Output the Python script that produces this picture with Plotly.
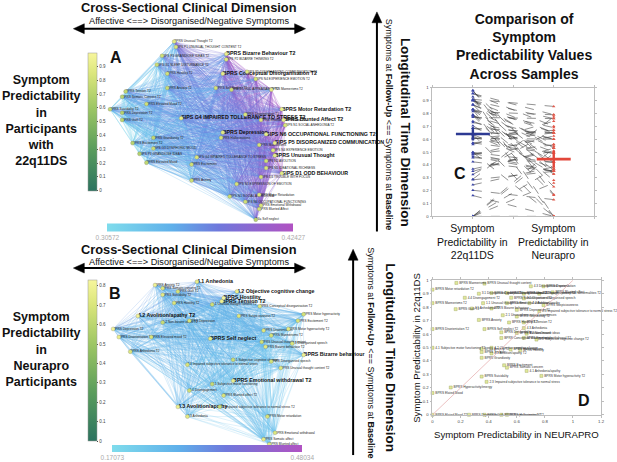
import plotly.graph_objects as go
from plotly.colors import sample_colorscale
from itertools import combinations

W, H = 617, 462
FONT = 'Liberation Sans, Arial, Helvetica, sans-serif'

# ---------------- panel A: network of symptoms, 22q11DS sample ----------------
a_labels = [
    'BPRS Unusual Thought T2', 'SIPS P1 UNUSUAL THOUGHT CONTENT T2', 'SIPS P3 GRANDIOSE IDEAS T2',
    'BPRS Bizarre Behaviour T2', 'SIPS P2 BIZARRE THINKING T2', 'SIPS G1 SLEEP DISTURBANCE T2',
    'SIPS P5 DISORGANIZED COMMUNICATION T2', 'BPRS Conceptual Disorganisation T2',
    'SIPS N4 EXPERIENCE EMOTION T2', 'BPRS Hostility T2', 'BPRS Mannerisms T2', 'BPRS Self Neglect T2',
    'SIPS D1 ODD APPEARANCE T2', 'BPRS Anxiety T2', 'BPRS Tension T2', 'BPRS Somatic Concern T2',
    'BPRS Elevated Mood T2', 'BPRS Suicidality T2', 'BPRS Depression T2', 'BPRS Guilt T2',
    'SIPS G4 IMPAIRED TOLLERANCE TO STRESS T2', 'BPRS Disorientation T2', 'BPRS Motor Retardation T2',
    'BPRS Blunted Affect T2', 'BPRS Emotional Withdrawal T2', 'SIPS N1 SOCIAL ANHEDONIA T2',
    'BPRS Depression', 'SIPS N6 OCCUPATIONAL FUNCTIONING T2', 'BPRS Grandiosity T2',
    'BPRS Hallucinations', 'BPRS Excitement T2', 'SIPS P5 DISORGANIZED COMMUNICATION',
    'SIPS G3 DYSPHORIC MOOD', 'SIPS N4 EXPERIENCE EMOTION', 'BPRS Mannerisms', 'BPRS Unusual Thought',
    'SIPS P3 GRANDIOSE IDEAS', 'SIPS G4 IMPAIRED TOLLERANCE TO STRESS', 'SIPS N2 AVOLITION',
    'BPRS Elevated Mood', 'BPRS Excitement', 'SIPS N5 IDEATIONAL RICHNESS', 'SIPS D1 ODD BEHAVIOUR',
    'SIPS D3 TROUBLE WITH FOCUS', 'BPRS Anxiety', 'SIPS N3 EXPRESSION OF EMOTION',
    'SIPS N1 SOCIAL ANHEDONIA', 'BPRS Motor Retardation', 'SIPS N6 OCCUPATIONAL FUNCTIONING',
    'BPRS Emotional Withdrawal', 'BPRS Blunted Affect', 'P4a Self neglect',
]
a_x = [37, 38, 30, 67, 67, 27, 79, 65, 84, 33, 93, 61, 70, 33, 9, 7, 21, 0, 7, 7,
       41, 78, 99, 100, 87, 101, 65, 90, 25, 64, 13, 95, 25, 94, 86, 95, 17, 50, 90, 21,
       47, 90, 99, 87, 47, 73, 69, 86, 78, 87, 86, 84]
a_y = [100, 97, 92, 93, 90, 87, 83, 82, 79, 82, 73, 74, 73, 74, 72, 69, 65, 62, 60, 56,
       57, 59, 62, 56, 56, 53, 49, 48, 46, 46, 43, 43, 40, 39, 42, 36, 37, 35, 33, 32,
       31, 29, 26, 24, 22, 20, 13, 14, 10, 8, 6, 0]
a_pred = [0.88, 0.84, 0.80, 0.92, 0.86, 0.78, 0.87, 0.90, 0.83, 0.81, 0.89, 0.82, 0.79, 0.77,
          0.74, 0.72, 0.80, 0.76, 0.70, 0.73, 0.91, 0.85, 0.93, 0.92, 0.86, 0.84, 0.88, 0.90,
          0.75, 0.83, 0.71, 0.91, 0.78, 0.86, 0.82, 0.90, 0.69, 0.85, 0.80, 0.74, 0.81, 0.84,
          0.89, 0.83, 0.79, 0.82, 0.77, 0.86, 0.80, 0.84, 0.81, 0.72]
a_strength = [0.37, 0.36, 0.34, 0.41, 0.40, 0.33, 0.41, 0.40, 0.41, 0.34, 0.41, 0.37, 0.38,
              0.33, 0.315, 0.31, 0.32, 0.31, 0.31, 0.31, 0.35, 0.39, 0.42, 0.42, 0.40, 0.42,
              0.37, 0.41, 0.32, 0.36, 0.31, 0.415, 0.32, 0.41, 0.40, 0.415, 0.315, 0.34, 0.40,
              0.315, 0.34, 0.40, 0.42, 0.39, 0.34, 0.37, 0.37, 0.39, 0.38, 0.39, 0.39, 0.38]
a_key = [3, 7, 20, 22, 23, 26, 27, 31, 35, 42]
a_wrange = [0.30572, 0.42427]

# ---------------- panel B: network of symptoms, Neurapro sample ----------------
b_labels = [
    'BPRS Anxiety T2', '4.1 Anhedonia', 'BPRS Somatic concern T2', 'BPRS Guilt T2',
    'BPRS Suicidality T2', '4.2 Objective cognitive change', 'BPRS Hostility', 'BPRS Tension T2',
    'BPRS Hostility T2', '1.1 Unusual thought content T2', 'BPRS Conceptual disorganisation T2',
    '4.2 Avolition/apathy T2', 'BPRS Suspiciousness T2', 'BPRS Depression', '1.2 Non-bizarre ideas T2',
    'BPRS Depression T2', 'BPRS Disorientation T2', 'BPRS Elevated mood T2', 'BPRS Self neglect',
    'BPRS Disorientation', 'BPRS Mannerisms T2', 'BPRS Motor hyperactivity T2',
    'BPRS Unusual thought content', 'BPRS Anhedonia T2', '3.1 Disorganised speech',
    'BPRS Bizarre behaviour T2', 'BPRS Bizarre behaviour', '5.1 Subjective cognitive change',
    '2.3 Impaired subjective tolerance to normal stress', 'BPRS Disorganised speech',
    'BPRS Unusual thought content T2', 'BPRS Emotional withdrawal T2',
    '4.1 Subjective motor functioning', '4.4 Disengagement', 'BPRS Blunted affect T2',
    '4.3 Avolition/apathy', '2.3 Impaired subjective tolerance to normal stress T2', '4.3 Anhedonia',
    'BPRS Motor retardation', 'BPRS Emotional withdrawal', 'BPRS Somatic affect', 'BPRS Blunted affect',
    'BPRS Motor hyperactivity', 'BPRS Excitement T2',
]
b_x = [22, 44, 26, 34, 26, 65, 58, 57, 32, 52, 77, 13, 66, 40, 26, 0, 3, 20, 51, 79,
       83, 92, 78, 9, 94, 80, 100, 63, 39, 83, 88, 63, 52, 40, 58, 34, 56, 39, 81, 85,
       79, 82, 100, 97]
b_y = [98, 100, 96, 94, 92, 94, 90, 88, 87, 86, 85, 79, 79, 76, 75, 71, 66, 66, 65, 70,
       67, 71, 63, 57, 62, 60, 55, 52, 49, 51, 47, 39, 37, 33, 30, 23, 23, 17, 17, 7,
       3, 0, 80, 76]
b_pred = [0.80, 0.76, 0.71, 0.68, 0.74, 0.78, 0.82, 0.79, 0.70, 0.66, 0.73, 0.81, 0.72, 0.69,
          0.64, 0.80, 0.77, 0.70, 0.75, 0.72, 0.68, 0.74, 0.66, 0.71, 0.70, 0.73, 0.79, 0.65,
          0.69, 0.67, 0.72, 0.76, 0.63, 0.66, 0.70, 0.78, 0.64, 0.74, 0.69, 0.71, 0.75, 0.73,
          0.68, 0.70]
b_strength = [0.30, 0.31, 0.29, 0.29, 0.28, 0.30, 0.30, 0.29, 0.27, 0.27, 0.26, 0.29, 0.26,
              0.26, 0.27, 0.29, 0.28, 0.27, 0.26, 0.25, 0.24, 0.24, 0.24, 0.27, 0.24, 0.24,
              0.25, 0.24, 0.24, 0.23, 0.23, 0.24, 0.24, 0.24, 0.23, 0.26, 0.23, 0.25, 0.22,
              0.22, 0.22, 0.22, 0.25, 0.24]
b_key = [1, 5, 6, 7, 11, 18, 26, 31, 35]
b_wrange = [0.17073, 0.48034]

# ---------------- panels C and D: same symptoms in both samples ----------------
sym_names = [
    'BPRS Mannerisms', 'BPRS Unusual thought content', '4.3 Disorganised speech', 'BPRS Disorientation',
    'BPRS Motor retardation T2', '3.1 Disorganised speech T2', 'BPRS Conceptual disorganisation T2',
    'BPRS Bizarre behaviour T2', 'BPRS Unusual thought content T2',
    '2.2 Objective perceptual abnormalities T2', 'BPRS Blunted affect', '4.4 Disengagement T2',
    'BPRS Somatic concern T2', '3.2 Objective disorganised speech', 'BPRS Mannerisms T2',
    '1.1 Unusual thought content', 'BPRS Emotional withdrawal', '4.2 Avolition/apathy',
    'BPRS Suspiciousness', 'BPRS Guilt T2', '4.1 Anhedonia T2', 'BPRS Bizarre behaviour',
    'BPRS Depression T2', '2.3 Impaired subjective tolerance to normal stress T2',
    '2.1 Unusual perceptual experiences', 'BPRS Grandiosity T2', 'BPRS Anxiety', 'BPRS Hostility T2',
    'BPRS Tension T2', 'BPRS Disorientation T2', 'BPRS Self neglect T2', '4.3 Anhedonia',
    'BPRS Distractibility', 'BPRS Elevated mood', '1.2 Non-bizarre ideas',
    'BPRS Conceptual disorganisation', 'BPRS Emotional withdrawal T2',
    '5.1 Subjective cognitive change T2', '4.1 Subjective motor functioning T2', 'BPRS Anxiety T2',
    '4.2 Objective cognitive change', 'BPRS Hallucinations', 'BPRS Hostility', 'BPRS Tension',
    '4.3 Avolition/apathy T2', 'BPRS Grandiosity', 'BPRS Excitement', 'BPRS Somatic concern',
    '4.1 Anhedonia/apathy', 'BPRS Motor hyperactivity T2', 'BPRS Suicidality',
    '2.3 Impaired subjective tolerance to normal stress', 'BPRS Hyperactivity/energy',
    'BPRS Elated Mood', 'BPRS Elated Mood T2', 'BPRS Depression', 'BPRS Guilt',
    'BPRS Suspiciousness T2', 'BPRS Hallucinations T2',
]
pred_neura = [0.17, 0.37, 0.70, 0.79, 0.00, 0.33, 0.42, 0.53, 0.65, 0.76, 0.855, 0.23, 0.56,
              0.65, 0.00, 0.36, 0.53, 0.69, 0.79, 0.165, 0.28, 0.42, 0.60, 0.76, 0.50, 0.60,
              0.33, 0.545, 0.65, 0.00, 0.37, 0.65, 0.49, 0.60, 0.67, 0.49, 0.65, 0.74, 0.00,
              0.35, 0.42, 0.556, 0.625, 0.35, 0.42, 0.35, 0.51, 0.53, 0.67, 0.775, 0.35, 0.385,
              0.13, 0.00, 0.00, 0.26, 0.37, 0.49, 0.53]
pred_22q = [0.98, 0.975, 0.955, 0.955, 0.93, 0.90, 0.905, 0.905, 0.90, 0.90, 0.91, 0.87, 0.87,
            0.865, 0.83, 0.83, 0.83, 0.83, 0.815, 0.785, 0.79, 0.79, 0.78, 0.77, 0.74, 0.73,
            0.705, 0.686, 0.686, 0.637, 0.637, 0.645, 0.613, 0.608, 0.603, 0.571, 0.571, 0.559,
            0.498, 0.49, 0.498, 0.485, 0.48, 0.466, 0.456, 0.424, 0.368, 0.35, 0.326, 0.289,
            0.284, 0.245, 0.203, 0.162, 0.0, 0.0, 0.0, 0.0, 0.0]
group_names = ['Symptom<br>Predictability in<br>22q11DS', 'Symptom<br>Predictability in<br>Neurapro']
group_mean = [0.64, 0.445]
group_spread = [0.05, 0.065]

NODE_SCALE = [[0, '#2c735f'], [0.3, '#5a9c5c'], [0.6, '#9dc663'], [0.85, '#dbe67c'], [1, '#f7f69c']]
EDGE_SCALE = [[0, '#7fdcec'], [0.35, '#5fb0ea'], [0.6, '#6f78dc'], [1, '#b152c2']]


def fx(p):
    return p / W


def fy(p):
    return 1 - p / H


fig = go.Figure()


def add_network(xs, ys, strength, wrange, pred, labels, key, xa, ya, node_ca, edge_ca, alpha):
    nb = 8
    groups = {}
    for i, j in combinations(range(len(xs)), 2):
        t = ((strength[i] + strength[j]) / 2 - wrange[0]) / (wrange[1] - wrange[0])
        k = min(max(int(t * nb), 0), nb - 1)
        gx, gy = groups.setdefault((i, k), ([], []))
        gx += [xs[i], xs[j], None]
        gy += [ys[i], ys[j], None]
    for (i, k), (gx, gy) in groups.items():
        col = sample_colorscale(EDGE_SCALE, (k + 0.5) / nb)[0]
        col = col.replace('rgb(', 'rgba(').replace(')', f', {alpha})')
        fig.add_trace(go.Scatter(x=gx, y=gy, mode='lines', line=dict(color=col, width=0.6),
                                 xaxis=xa, yaxis=ya, hoverinfo='skip'))
    # dummy for the edge weight colour bar
    fig.add_trace(go.Scatter(x=xs[:2], y=ys[:2], mode='markers', xaxis=xa, yaxis=ya,
                             marker=dict(color=wrange, coloraxis=edge_ca, opacity=0),
                             hoverinfo='skip'))
    small = [i for i in range(len(xs)) if i not in key]
    fig.add_trace(go.Scatter(x=[xs[i] for i in small], y=[ys[i] for i in small],
                             text=[labels[i] for i in small], mode='text',
                             textposition='middle right', cliponaxis=False,
                             textfont=dict(size=3.2, color='#222', family=FONT),
                             xaxis=xa, yaxis=ya, hoverinfo='skip'))
    fig.add_trace(go.Scatter(x=[xs[i] for i in key], y=[ys[i] for i in key],
                             text=['<b>' + labels[i] + '</b>' for i in key], mode='text',
                             textposition='middle right', cliponaxis=False,
                             textfont=dict(size=5.3, color='#111', family=FONT),
                             xaxis=xa, yaxis=ya, hoverinfo='skip'))
    fig.add_trace(go.Scatter(x=xs, y=ys, mode='markers', cliponaxis=False,
                             marker=dict(size=4, color=pred, coloraxis=node_ca,
                                         line=dict(width=0.3, color='#777')),
                             xaxis=xa, yaxis=ya, hoverinfo='skip'))


add_network(a_x, a_y, a_strength, a_wrange, a_pred, a_labels, a_key, 'x', 'y',
            'coloraxis', 'coloraxis2', 0.42)
add_network(b_x, b_y, b_strength, b_wrange, b_pred, b_labels, b_key, 'x2', 'y2',
            'coloraxis3', 'coloraxis4', 0.38)

# ---------------- panel C ----------------
lx, ly = [], []
for q, n in zip(pred_22q, pred_neura):
    lx += [1, 2, None]
    ly += [q, n, None]
fig.add_trace(go.Scatter(x=lx, y=ly, mode='lines', xaxis='x3', yaxis='y3', hoverinfo='skip',
                         line=dict(color='rgba(60,60,60,0.8)', width=0.7, dash='dash')))
fig.add_trace(go.Scatter(x=[1] * len(pred_22q), y=pred_22q, mode='markers', xaxis='x3', yaxis='y3',
                         cliponaxis=False, marker=dict(size=3, color='#3b46a8', symbol='triangle-up')))
fig.add_trace(go.Scatter(x=[2] * len(pred_neura), y=pred_neura, mode='markers', xaxis='x3',
                         yaxis='y3', cliponaxis=False,
                         marker=dict(size=3, color='#e0584a', symbol='triangle-up')))
for g, (m, s, c) in enumerate(zip(group_mean, group_spread, ['#2d3a93', '#e2473a'])):
    fig.add_trace(go.Scatter(x=[g + 0.79, g + 1.21], y=[m, m], mode='lines', xaxis='x3', yaxis='y3',
                             line=dict(color=c, width=2.6)))
    fig.add_trace(go.Scatter(x=[g + 1], y=[m], mode='markers', xaxis='x3', yaxis='y3',
                             marker=dict(size=1, color=c),
                             error_y=dict(type='data', array=[s], color=c, thickness=2.4, width=0)))

# ---------------- panel D ----------------
fig.add_shape(type='line', xref='x4', yref='y4', x0=0, y0=0, x1=1, y1=1,
              line=dict(color='#e7b3b3', width=0.8))
fig.add_trace(go.Scatter(x=pred_neura, y=pred_22q, mode='markers+text', text=sym_names,
                         textposition='middle right', cliponaxis=False, xaxis='x4', yaxis='y4',
                         textfont=dict(size=3.2, color='#333', family=FONT),
                         marker=dict(size=3, symbol='square', color='#e1e99a',
                                     line=dict(width=0.4, color='#9a9f5e'))))

hidden = dict(visible=False, fixedrange=True)
tickax = dict(showline=True, linecolor='#bdbdbd', linewidth=0.8, mirror='ticks', ticks='outside',
              ticklen=2, tickcolor='#bdbdbd', showgrid=False, zeroline=False,
              tickfont=dict(size=4.3, color='#444', family=FONT))

fig.update_layout(
    width=W, height=H, margin=dict(l=0, r=0, t=0, b=0),
    paper_bgcolor='white', plot_bgcolor='white', showlegend=False,
    font=dict(family=FONT, color='#111'),
    xaxis=dict(domain=[fx(108), fx(325)], range=[-1.1, 123], anchor='y', **hidden),
    yaxis=dict(domain=[fy(224), fy(35)], range=[-2.2, 102.8], anchor='x', **hidden),
    xaxis2=dict(domain=[fx(110), fx(335)], range=[-1.6, 115.6], anchor='y2', **hidden),
    yaxis2=dict(domain=[fy(452), fy(278)], range=[-3.05, 103], anchor='x2', **hidden),
    xaxis3=dict(domain=[fx(435), fx(598)], range=[0.5, 2.5], tickvals=[0.5, 1, 1.5, 2, 2.5],
                ticktext=[''] * 5, anchor='y3', **tickax),
    yaxis3=dict(domain=[fy(216.7), fy(86.7)], range=[0, 1], dtick=0.1, anchor='x3', **tickax),
    xaxis4=dict(domain=[fx(435), fx(605)], range=[0, 1.2], dtick=0.2, anchor='y4', **tickax),
    yaxis4=dict(domain=[fy(417.3), fy(281.3)], range=[0, 1], dtick=0.1, anchor='x4', **tickax),
    coloraxis=dict(colorscale=NODE_SCALE, cmin=0, cmax=1, colorbar=dict(
        x=fx(88), xanchor='left', y=fy(121), yanchor='middle', len=138, lenmode='pixels',
        thickness=9, xpad=0, ypad=0, outlinewidth=0.5, outlinecolor='#999',
        tickvals=[i / 10 for i in range(10)], ticks='outside', ticklen=1.5,
        tickfont=dict(size=4.5, color='#444'))),
    coloraxis2=dict(colorscale=EDGE_SCALE, cmin=a_wrange[0], cmax=a_wrange[1], colorbar=dict(
        orientation='h', x=fx(201), xanchor='center', y=fy(232), yanchor='middle', len=186,
        lenmode='pixels', thickness=8, xpad=0, ypad=0, outlinewidth=0,
        tickvals=a_wrange, ticktext=[str(v) for v in a_wrange], ticks='',
        tickfont=dict(size=6.5, color='#aaa'))),
    coloraxis3=dict(colorscale=NODE_SCALE, cmin=0, cmax=0.83, colorbar=dict(
        x=fx(88), xanchor='left', y=fy(362.5), yanchor='middle', len=161, lenmode='pixels',
        thickness=9, xpad=0, ypad=0, outlinewidth=0.5, outlinecolor='#999',
        tickvals=[i / 10 for i in range(9)], ticks='outside', ticklen=1.5,
        tickfont=dict(size=4.5, color='#444'))),
    coloraxis4=dict(colorscale=EDGE_SCALE, cmin=b_wrange[0], cmax=b_wrange[1], colorbar=dict(
        orientation='h', x=fx(208), xanchor='center', y=fy(455), yanchor='middle', len=190,
        lenmode='pixels', thickness=7, xpad=0, ypad=0, outlinewidth=0,
        tickvals=b_wrange, ticktext=[str(v) for v in b_wrange], ticks='',
        tickfont=dict(size=6.5, color='#aaa'))),
)


def note(text, x, y, size, angle=0, xanchor='center', yanchor='middle', **kw):
    fig.add_annotation(text=text, x=x, y=y, xref=kw.pop('xref', 'paper'), yref='paper',
                       showarrow=False, textangle=angle, xanchor=xanchor, yanchor=yanchor,
                       font=dict(size=size, family=FONT, color='#111'), **kw)


for top in (6, 250):
    note('<b>Cross-Sectional Clinical Dimension</b>', fx(190), fy(top), 12.8)
    note('Affective &lt;==&gt; Disorganised/Negative Symptoms', fx(190), fy(top + 13), 9.2)
note('<b>Symptom<br>Predictability<br>in<br>Participants<br>with<br>22q11DS</b>', fx(41), fy(120), 12.5)
note('<b>Symptom<br>Predictability<br>in<br>Neurapro<br>Participants</b>', fx(41), fy(351), 12.5)
note('<b>Longitudinal Time Dimension</b>', fx(408), fy(132), 13.5, angle=90)
note('Symptoms at <b>Follow-Up</b> &lt;== Symptoms at <b>Baseline</b>', fx(392), fy(124), 9, angle=90)
note('<b>Longitudinal Time Dimension</b>', fx(393), fy(360), 13.5, angle=90)
note('Symptoms at <b>Follow-Up</b> &lt;== Symptoms at <b>Baseline</b>', fx(373), fy(355), 9, angle=90)
note('<b>Comparison of<br>Symptom<br>Predictability Values<br>Across Samples</b>', fx(527), fy(45), 14)
for g, name in enumerate(group_names):
    note(name, g + 1, fy(220), 10.5, yanchor='top', xref='x3')
note('Symptom Predictability in NEURAPRO', fx(520), fy(437), 9.6)
note('Symptom Predictability in 22q11DS', fx(419), fy(350), 9.6, angle=-90)
for letter, x, y in [('A', 116, 56), ('B', 115, 295), ('C', 463, 173), ('D', 588, 403)]:
    note('<b>' + letter + '</b>', fx(x), fy(y), 16)


# arrows
def arrow_line(x0, y0, x1, y1):
    fig.add_shape(type='line', xref='paper', yref='paper', x0=fx(x0), y0=fy(y0), x1=fx(x1),
                  y1=fy(y1), line=dict(color='black', width=2))


def arrow_head(tx, ty, dx, dy):
    # tip at (tx, ty), pointing along (dx, dy) in pixels
    L, Wd = 11, 5
    bx, by = tx - dx * L, ty - dy * L
    px_, py_ = -dy * Wd, dx * Wd
    path = (f'M {fx(tx)} {fy(ty)} L {fx(bx + px_)} {fy(by + py_)} '
            f'L {fx(bx - px_)} {fy(by - py_)} Z')
    fig.add_shape(type='path', xref='paper', yref='paper', path=path,
                  fillcolor='black', line=dict(color='black', width=0.5))


for yy in (27, 269):
    arrow_line(80, yy, 300, yy)
    arrow_head(73, yy, -1, 0)
    arrow_head(307, yy, 1, 0)
arrow_line(379, 232, 379, 18)
arrow_head(379, 10, 0, -1)
arrow_line(355, 458, 355, 258)
arrow_head(355, 250, 0, -1)

# the page body has a default margin; drop it so the figure sits at the window corner
fig.write_html('out.html', config={'displayModeBar': False},
               post_script="document.body.style.margin='0';")
